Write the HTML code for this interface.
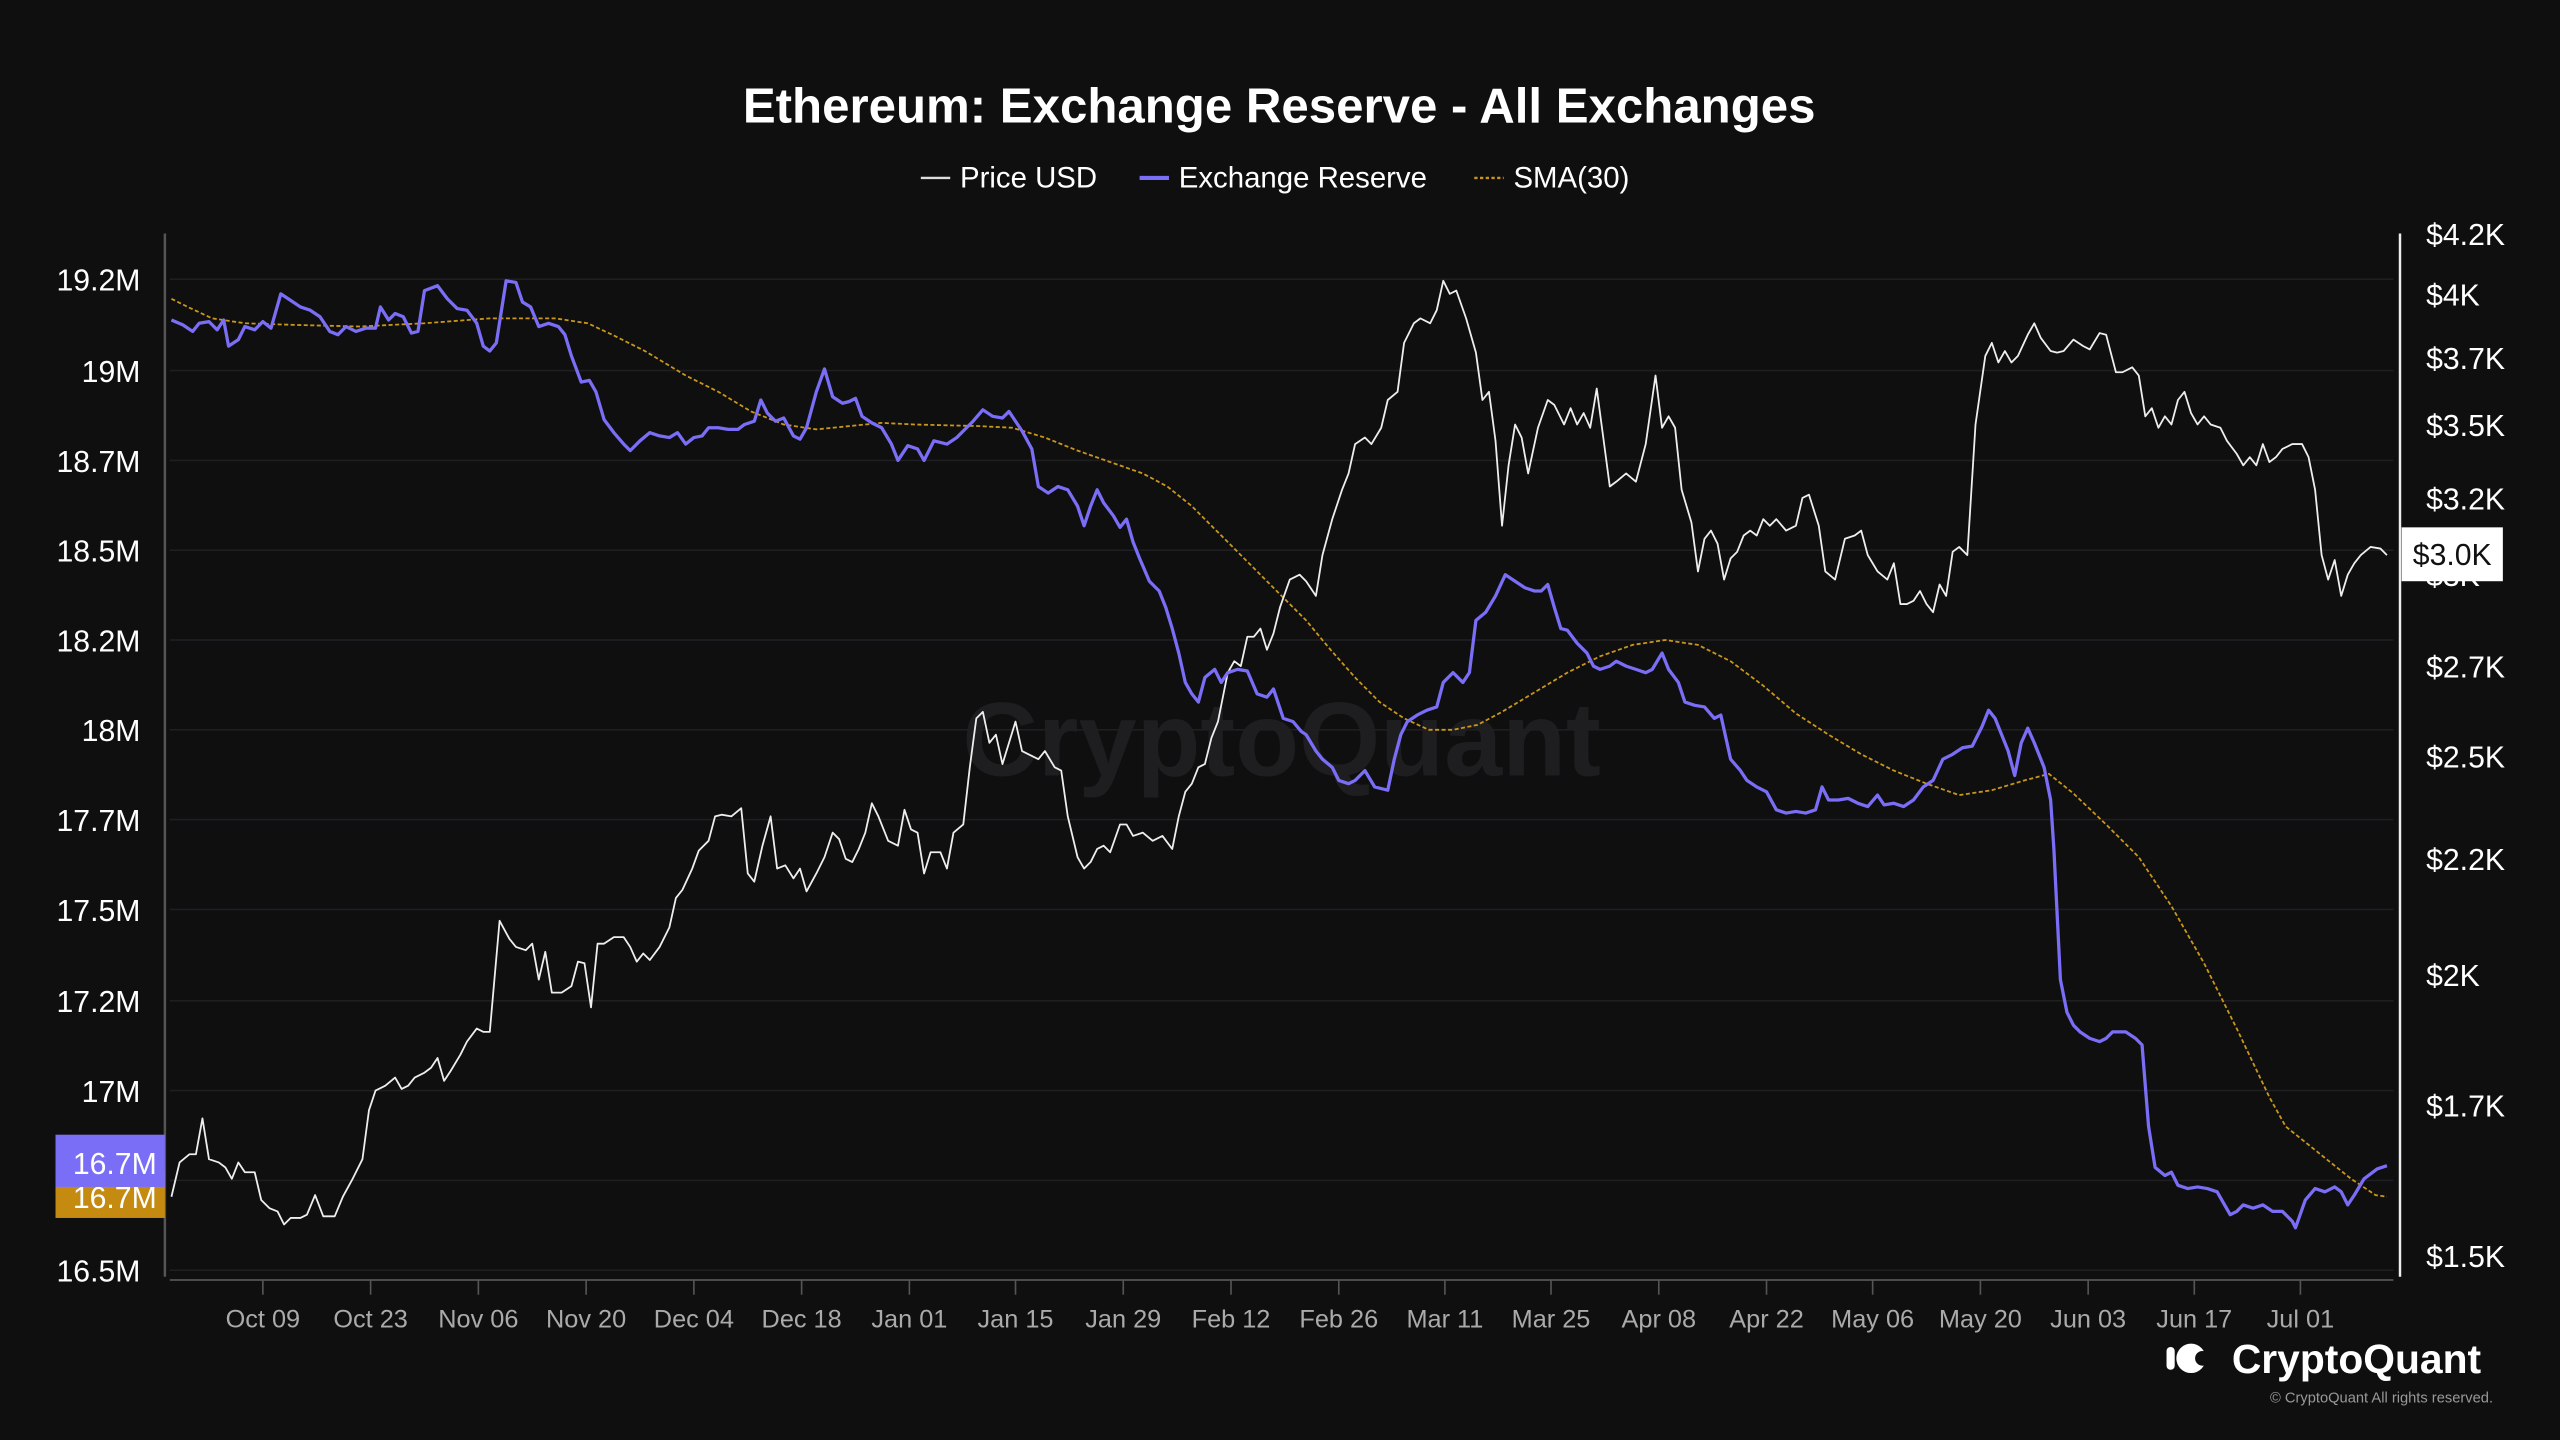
<!DOCTYPE html>
<html><head><meta charset="utf-8"><style>
html,body{margin:0;padding:0;background:#0f0f10;}
svg{display:block;}
text{font-family:"Liberation Sans",sans-serif;}
</style></head><body>
<svg width="2560" height="1440" viewBox="0 0 1568 882" xmlns="http://www.w3.org/2000/svg">
<rect width="1568" height="882" fill="#0f0f10"/>
<text x="455" y="75" textLength="657" lengthAdjust="spacingAndGlyphs" fill="#fff" font-size="30" font-weight="bold">Ethereum: Exchange Reserve - All Exchanges</text>
<g font-size="18" fill="#fff">
<line x1="564" y1="109" x2="582" y2="109" stroke="#ddd" stroke-width="1.5"/>
<text x="588" y="115">Price USD</text>
<line x1="698" y1="109" x2="716" y2="109" stroke="#7b6ef6" stroke-width="2.5"/>
<text x="722" y="115">Exchange Reserve</text>
<line x1="903" y1="109" x2="921" y2="109" stroke="#c8961a" stroke-width="1.5" stroke-dasharray="2,1.5"/>
<text x="927" y="115">SMA(30)</text>
</g>
<text x="785" y="475" text-anchor="middle" fill="#1e1e20" font-size="64" font-weight="bold">CryptoQuant</text>
<g stroke="#1f1f22" stroke-width="1">
<line x1="104" y1="171" x2="1466" y2="171"/><line x1="104" y1="227" x2="1466" y2="227"/>
<line x1="104" y1="282" x2="1466" y2="282"/><line x1="104" y1="337" x2="1466" y2="337"/>
<line x1="104" y1="392" x2="1466" y2="392"/><line x1="104" y1="447" x2="1466" y2="447"/>
<line x1="104" y1="502" x2="1466" y2="502"/><line x1="104" y1="557" x2="1466" y2="557"/>
<line x1="104" y1="613" x2="1466" y2="613"/><line x1="104" y1="668" x2="1466" y2="668"/>
<line x1="104" y1="723" x2="1466" y2="723"/><line x1="104" y1="778" x2="1466" y2="778"/>
</g>
<line x1="101" y1="143" x2="101" y2="782" stroke="#555" stroke-width="1.5"/>
<line x1="1470" y1="143" x2="1470" y2="782" stroke="#eee" stroke-width="1.5"/>
<line x1="104" y1="784" x2="1466" y2="784" stroke="#555" stroke-width="1"/>
<g stroke="#555" stroke-width="1">
<line x1="161" y1="784" x2="161" y2="793"/><line x1="227" y1="784" x2="227" y2="793"/><line x1="293" y1="784" x2="293" y2="793"/><line x1="359" y1="784" x2="359" y2="793"/><line x1="425" y1="784" x2="425" y2="793"/><line x1="491" y1="784" x2="491" y2="793"/><line x1="557" y1="784" x2="557" y2="793"/><line x1="622" y1="784" x2="622" y2="793"/><line x1="688" y1="784" x2="688" y2="793"/><line x1="754" y1="784" x2="754" y2="793"/><line x1="820" y1="784" x2="820" y2="793"/><line x1="885" y1="784" x2="885" y2="793"/><line x1="950" y1="784" x2="950" y2="793"/><line x1="1016" y1="784" x2="1016" y2="793"/><line x1="1082" y1="784" x2="1082" y2="793"/><line x1="1147" y1="784" x2="1147" y2="793"/><line x1="1213" y1="784" x2="1213" y2="793"/><line x1="1279" y1="784" x2="1279" y2="793"/><line x1="1344" y1="784" x2="1344" y2="793"/><line x1="1409" y1="784" x2="1409" y2="793"/>
</g>
<g font-size="15.5" fill="#aaa" text-anchor="middle">
<text x="161" y="813">Oct 09</text><text x="227" y="813">Oct 23</text><text x="293" y="813">Nov 06</text><text x="359" y="813">Nov 20</text><text x="425" y="813">Dec 04</text><text x="491" y="813">Dec 18</text><text x="557" y="813">Jan 01</text><text x="622" y="813">Jan 15</text><text x="688" y="813">Jan 29</text><text x="754" y="813">Feb 12</text><text x="820" y="813">Feb 26</text><text x="885" y="813">Mar 11</text><text x="950" y="813">Mar 25</text><text x="1016" y="813">Apr 08</text><text x="1082" y="813">Apr 22</text><text x="1147" y="813">May 06</text><text x="1213" y="813">May 20</text><text x="1279" y="813">Jun 03</text><text x="1344" y="813">Jun 17</text><text x="1409" y="813">Jul 01</text>
</g>
<g font-size="18.5" fill="#fff" text-anchor="end">
<text x="86" y="178">19.2M</text><text x="86" y="234">19M</text><text x="86" y="289">18.7M</text><text x="86" y="344">18.5M</text><text x="86" y="399">18.2M</text><text x="86" y="454">18M</text><text x="86" y="509">17.7M</text><text x="86" y="564">17.5M</text><text x="86" y="620">17.2M</text><text x="86" y="675">17M</text><text x="86" y="785">16.5M</text>
</g>
<g font-size="18.5" fill="#fff">
<text x="1486" y="150">$4.2K</text><text x="1486" y="187">$4K</text><text x="1486" y="226">$3.7K</text><text x="1486" y="267">$3.5K</text><text x="1486" y="312">$3.2K</text><text x="1486" y="359">$3K</text><text x="1486" y="415">$2.7K</text><text x="1486" y="470">$2.5K</text><text x="1486" y="533">$2.2K</text><text x="1486" y="604">$2K</text><text x="1486" y="684">$1.7K</text><text x="1486" y="776">$1.5K</text>
</g>
<rect x="34" y="718" width="67" height="28" fill="#c58a10"/>
<text x="96" y="740" text-anchor="end" font-size="18.5" fill="#fff">16.7M</text>
<rect x="34" y="695" width="67" height="32" fill="#7b6ef6"/>
<text x="96" y="719" text-anchor="end" font-size="18.5" fill="#fff">16.7M</text>
<rect x="1471" y="323" width="62" height="33" fill="#fff"/>
<text x="1502" y="346" text-anchor="middle" font-size="18.5" fill="#111">$3.0K</text>
<polyline fill="none" stroke="#c8961a" stroke-width="1.1" stroke-dasharray="2.5,1.5" points="105,183 115,188 130,195 150,198 180,199 220,200 260,198 300,195 340,195 360,198 375,205 395,215 420,230 440,240 460,252 480,260 500,263 520,261 540,259 560,260 600,261 620,262 640,268 660,276 680,283 700,290 715,298 730,310 745,325 760,340 780,360 800,380 815,398 830,415 845,430 860,440 875,447 890,447 905,444 920,436 940,424 960,412 980,402 1000,395 1020,392 1040,395 1060,405 1080,420 1100,437 1120,450 1140,462 1160,472 1180,480 1200,487 1220,484 1240,478 1255,474 1270,486 1290,505 1310,525 1330,555 1350,590 1370,630 1390,672 1400,690 1420,706 1440,722 1455,732 1462,733"/>
<polyline fill="none" stroke="#eee" stroke-width="1.1" stroke-linejoin="round" points="105,733 110,712 116,707 120,707 124,685 128,710 134,712 138,715 142,722 146,712 150,718 156,718 160,735 165,740 170,742 174,750 178,746 184,746 188,744 193,732 198,745 205,745 210,733 216,722 222,710 226,680 230,668 236,665 242,660 246,667 250,665 254,660 260,657 264,654 268,648 272,662 276,656 282,646 286,638 292,630 296,632 300,632 306,564 312,575 316,580 322,582 326,578 330,600 334,583 338,608 344,608 350,604 354,589 358,590 362,617 366,578 370,578 376,574 382,574 386,580 390,589 394,584 398,588 404,580 410,568 414,550 418,545 424,532 428,521 434,515 438,500 442,499 448,500 454,495 458,535 462,540 467,518 472,500 476,532 481,530 486,538 490,532 494,546 500,535 505,525 510,510 514,514 518,526 522,528 526,520 530,510 534,492 538,500 544,515 550,518 554,496 558,508 562,510 566,535 570,522 576,522 580,532 584,510 590,505 594,470 598,440 602,436 606,455 610,450 614,468 618,455 622,442 626,460 632,463 636,465 640,460 646,470 650,472 654,500 660,525 664,532 668,528 672,520 676,518 680,522 686,505 690,505 694,512 700,510 706,515 712,512 718,520 722,500 726,485 730,480 734,470 738,468 742,452 746,442 752,412 756,405 760,408 764,390 768,390 772,385 776,398 780,388 784,372 790,355 796,352 800,356 806,365 810,340 816,318 822,300 826,290 830,272 836,268 840,272 846,262 850,245 856,240 860,210 866,198 870,195 876,198 880,190 884,172 888,180 892,178 898,195 904,216 908,245 912,240 916,270 920,322 924,285 928,260 932,268 936,290 942,262 948,245 952,248 958,260 962,250 966,260 970,253 974,262 978,238 982,268 986,298 990,295 996,290 1002,295 1008,272 1014,230 1018,262 1022,255 1026,262 1030,300 1036,320 1040,350 1044,330 1048,325 1052,333 1056,355 1060,342 1064,338 1068,328 1072,325 1076,328 1080,318 1084,322 1088,318 1094,325 1100,322 1104,305 1108,303 1114,322 1118,350 1124,355 1130,330 1136,328 1140,325 1144,340 1150,350 1156,355 1160,345 1164,370 1168,370 1172,368 1176,362 1180,370 1184,375 1188,358 1192,365 1196,338 1200,335 1205,340 1210,260 1216,218 1220,210 1224,222 1228,215 1232,222 1236,218 1242,205 1246,198 1250,207 1256,215 1260,216 1264,215 1270,208 1276,212 1280,214 1286,204 1290,205 1296,228 1300,228 1306,225 1310,230 1314,255 1318,250 1322,262 1326,255 1330,260 1334,245 1338,240 1342,253 1346,260 1350,255 1354,260 1360,262 1364,270 1370,278 1374,285 1378,280 1382,285 1386,272 1390,283 1394,280 1398,275 1404,272 1410,272 1414,280 1418,300 1422,340 1426,355 1430,343 1434,365 1438,352 1442,345 1446,340 1452,335 1458,336 1462,340"/>
<polyline fill="none" stroke="#7b6ef6" stroke-width="2" stroke-linejoin="round" points="105,196 112,199 118,203 122,198 128,197 133,202 137,196 140,212 146,208 150,200 156,202 161,197 166,201 172,180 178,184 184,188 190,190 196,194 202,203 207,205 212,200 218,203 224,201 230,201 233,188 238,196 242,192 247,194 252,204 256,203 260,178 268,175 274,183 280,189 286,190 292,198 296,212 300,215 304,210 310,172 316,173 320,185 325,188 330,200 336,198 342,200 346,205 350,218 356,234 361,233 365,240 370,257 376,265 382,272 386,276 392,270 398,265 404,267 410,268 415,265 420,272 425,268 430,267 434,262 440,262 446,263 452,263 456,260 462,258 466,245 470,253 475,258 480,256 486,267 490,269 494,262 500,240 505,226 510,243 516,247 520,246 524,244 528,255 534,259 540,262 546,272 550,282 556,273 562,275 566,282 572,270 580,272 586,268 590,264 596,258 602,251 608,255 614,256 618,252 622,258 626,264 632,275 636,298 642,302 648,298 654,300 660,310 664,322 668,310 672,300 676,308 682,316 686,323 690,318 694,332 698,342 704,356 710,362 714,372 718,385 722,400 726,418 730,425 734,430 738,415 744,410 748,418 752,412 758,410 764,411 770,425 776,427 780,422 786,440 792,442 797,448 800,450 806,460 810,465 816,470 820,478 826,480 830,478 836,472 842,482 846,483 850,484 854,465 858,450 862,442 868,438 874,435 880,433 884,418 890,412 896,418 900,412 904,380 910,375 916,365 922,352 928,356 934,360 940,362 944,362 948,358 952,372 956,385 960,386 966,394 972,400 976,408 980,410 986,408 990,405 996,408 1002,410 1008,412 1012,410 1018,400 1022,410 1028,418 1032,430 1038,432 1044,433 1050,440 1054,438 1060,465 1066,472 1070,478 1076,482 1082,485 1088,496 1094,498 1100,497 1106,498 1112,496 1116,482 1120,490 1126,490 1132,489 1138,492 1144,494 1150,487 1154,493 1160,492 1166,494 1172,490 1178,482 1184,478 1190,465 1196,462 1202,458 1208,457 1214,445 1218,435 1222,440 1226,450 1230,460 1234,475 1238,455 1242,446 1246,455 1252,470 1256,490 1258,520 1262,600 1266,620 1270,628 1274,632 1280,636 1286,638 1290,636 1294,632 1302,632 1308,636 1312,640 1316,690 1320,715 1326,720 1330,718 1334,726 1340,728 1346,727 1352,728 1358,730 1362,737 1366,744 1370,742 1374,738 1380,740 1386,738 1392,742 1398,742 1404,748 1406,752 1412,735 1418,728 1424,730 1430,727 1434,730 1438,738 1442,732 1448,722 1456,716 1462,714"/>
<g fill="#fff">
<circle cx="1342" cy="832" r="9"/>
<circle cx="1349" cy="832" r="4.5" fill="#0f0f10"/>
<rect x="1327" y="825" width="5" height="14" rx="2.5"/>
<text x="1367" y="841" font-size="25" font-weight="bold">CryptoQuant</text>
<text x="1527" y="859" text-anchor="end" font-size="9" fill="#999">© CryptoQuant All rights reserved.</text>
</g>
</svg>
</body></html>
